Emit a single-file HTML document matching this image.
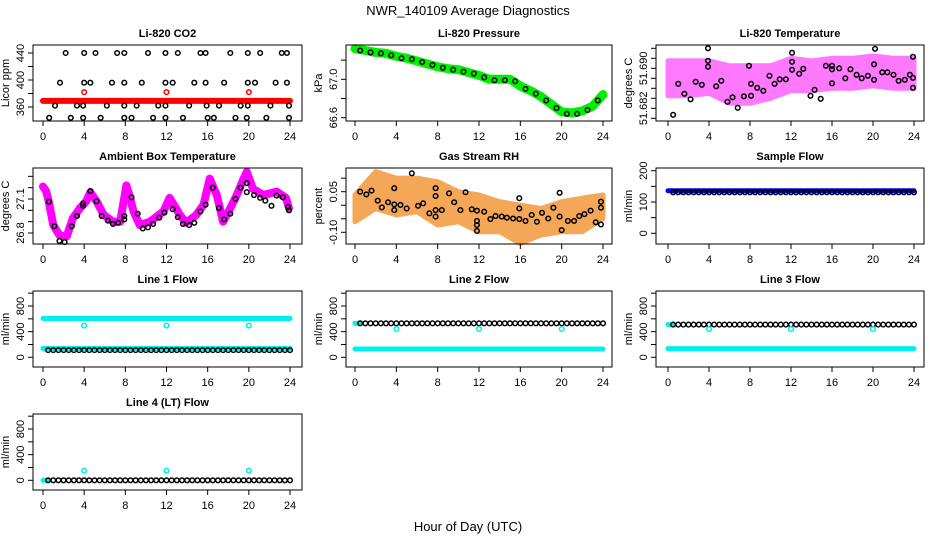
<!DOCTYPE html>
<html><head><meta charset="utf-8">
<style>
html,body{margin:0;padding:0;background:#fff;}
svg{display:block;font-family:"Liberation Sans",Arial,sans-serif;}
</style></head>
<body>
<svg id="chart" width="936" height="540" viewBox="0 0 936 540" xmlns="http://www.w3.org/2000/svg">
<rect width="936" height="540" fill="#fff"/>
<text x="468" y="15" font-size="13" text-anchor="middle">NWR_140109  Average Diagnostics</text>
<text x="468" y="531" font-size="13" text-anchor="middle">Hour of Day (UTC)</text>
</svg>
<script>
// ---------- data ----------
const xTickLabels = [0,4,8,12,16,20,24];
const checkHours = [4,12,20];

// CO2
const co2Band = 369;
const co2CheckVals = [382,382,382];
const co2H440 = [2.2,4.0,5.1,7.2,7.9,10.2,11.9,13.1,15.3,15.8,18.2,19.9,21.1,23.2,23.7];
const co2H396 = [1.65,4.0,4.6,6.7,7.9,9.6,11.9,12.6,14.7,15.8,17.6,19.9,20.6,22.6,23.7];
const co2H362 = [1.17,3.3,3.9,6.2,7.9,9.1,11.2,11.9,14.2,15.9,17.1,19.2,19.9,22.1,23.9];
const co2H344 = [0.6,2.7,3.9,5.6,7.9,8.6,10.7,11.9,13.6,16.0,16.6,18.7,19.8,21.7,23.9];
const co2Levels = [440,396,362,344];

// Pressure
const presHours = [0,1,2,3,4,5,6,7,8,9,10,11,12,13,14,15,16,17,18,19,20,21,22,23,24];
const presGreen = [67.32,67.30,67.28,67.27,67.24,67.22,67.19,67.16,67.13,67.11,67.10,67.07,67.04,67.00,67.00,67.00,66.93,66.88,66.82,66.74,66.66,66.65,66.67,66.72,66.84];
const presBlackHours = [0.5,1.5,2.5,3.5,4.5,5.5,6.5,7.5,8.5,9.5,10.5,11.5,12.5,13.5,14.5,15.5,16.5,17.5,18.5,19.5,20.5,21.5,22.5,23.5];
const presBlack = [67.30,67.28,67.27,67.25,67.22,67.21,67.18,67.15,67.12,67.10,67.08,67.06,67.02,66.99,66.99,66.98,66.90,66.85,66.78,66.70,66.64,66.64,66.68,66.78];

// Li-820 temperature
const tempBandHours = [0,2,4,6,8,10,12,14,16,18,20,22,24];
const tempHi = [51.6915,51.6915,51.6915,51.6905,51.6905,51.6905,51.6920,51.6915,51.6920,51.6920,51.6925,51.6920,51.6920];
const tempLo = [51.6845,51.6845,51.6850,51.6830,51.6830,51.6840,51.6855,51.6855,51.6860,51.6860,51.6865,51.6860,51.6860];
const tempBlackHours = [0.5,1.0,1.6,2.2,2.7,3.3,3.9,3.9,3.9,4.7,5.2,5.8,6.3,6.8,7.4,7.9,8.1,8.1,8.7,9.3,9.9,10.4,10.9,11.5,12.1,12.1,12.1,12.8,13.2,13.9,14.3,14.9,15.4,16.0,16.0,16.0,16.7,17.3,17.8,18.4,18.9,19.5,20.1,20.1,20.2,20.9,21.4,22.0,22.5,23.1,23.6,23.9,23.9,23.9];
const tempBlack = [51.6807,51.6869,51.6849,51.6838,51.6873,51.6867,51.6940,51.6915,51.6903,51.6864,51.6875,51.6833,51.6842,51.6821,51.6844,51.6905,51.6845,51.6869,51.6861,51.6855,51.6885,51.6869,51.6878,51.6878,51.6931,51.6913,51.6897,51.6889,51.6899,51.6845,51.6857,51.6839,51.6905,51.6905,51.6898,51.6870,51.6900,51.6880,51.6898,51.6887,51.6880,51.6885,51.6908,51.6877,51.6939,51.6892,51.6892,51.6887,51.6875,51.6877,51.6887,51.6881,51.6861,51.6923];

// Ambient box temperature
const ambHours = [0,0.3,0.55,1.0,1.6,2.3,2.9,3.6,4.2,4.6,5.2,5.9,6.8,7.5,8.1,8.4,8.8,9.4,10.4,11.7,12.3,13.3,13.9,14.9,15.6,16.2,16.9,17.5,18.2,18.8,19.5,19.8,20.4,21.4,22.7,23.6,23.9];
const ambMagenta = [27.21,27.17,27.08,26.87,26.78,26.77,26.93,27.02,27.08,27.16,27.08,26.96,26.90,26.90,27.22,27.13,26.99,26.87,26.90,26.99,27.11,26.96,26.89,26.96,27.05,27.28,27.13,26.90,27.02,27.13,27.28,27.34,27.19,27.135,27.165,27.11,27.02];
const ambBlackHours = [0.57,1.1,1.6,2.1,2.8,3.3,3.9,3.9,4.6,5.2,5.7,6.3,6.8,7.3,7.9,7.9,8.6,9.2,9.7,10.2,10.7,11.3,11.8,12.6,13.1,13.6,14.2,14.7,15.3,15.8,16.5,17.1,17.6,18.2,18.7,19.2,19.8,19.8,20.5,21.1,21.6,22.2,22.7,23.3,23.8,23.9];
const ambBlack = [27.076,26.86,26.73,26.72,26.86,26.95,27.06,27.04,27.17,27.08,26.95,26.91,26.88,26.89,26.95,26.92,27.115,26.97,26.84,26.85,26.88,26.935,26.98,27.01,26.94,26.88,26.87,26.89,26.99,27.05,27.20,27.02,26.92,26.97,27.10,27.20,27.24,27.16,27.135,27.11,27.085,27.04,27.13,27.115,27.03,27.0];

// Gas stream RH
const rhBandHours = [0,2,4,6,8,10,12,14,16,18,20,22,24];
const rhHi = [0.038,0.124,0.10,0.10,0.087,0.050,0.038,0.013,0.0,-0.012,0.013,0.026,0.038];
const rhLo = [-0.061,-0.012,-0.036,-0.024,-0.073,-0.061,-0.098,-0.098,-0.141,-0.110,-0.098,-0.098,-0.049];
const rhBlackHours = [0.5,1.1,1.6,2.2,2.6,3.2,3.8,3.8,3.8,4.4,5.0,5.5,6.1,6.6,7.2,7.8,7.8,7.8,7.8,8.4,9.1,9.6,10.2,10.7,11.3,11.8,11.8,11.8,11.8,12.5,13.1,13.6,14.2,14.7,15.3,15.9,15.9,15.9,16.5,17.1,17.6,18.1,18.7,19.2,19.8,19.8,20.0,20.6,21.2,21.7,22.2,22.8,23.3,23.8,23.8,23.8];
const rhBlack = [0.05,0.040,0.054,0.017,-0.008,0.011,0.063,0.003,-0.018,0.001,-0.012,0.118,-0.002,0.007,-0.030,-0.042,0.063,0.034,-0.018,-0.018,0.044,0.011,-0.018,0.048,-0.015,-0.020,-0.058,-0.073,-0.095,-0.024,-0.051,-0.040,-0.042,-0.046,-0.049,-0.051,0.026,-0.012,-0.058,-0.036,-0.061,-0.028,-0.049,-0.009,0.046,-0.042,-0.092,-0.058,-0.058,-0.040,-0.033,-0.020,-0.063,0.013,-0.009,-0.071];

// Flows
const sampleBlue = 136, sampleBlack = 131;
const line1High = 605, line1Low = 138, line1Black = 112, line1Check = [495,495,495];
const line2Black = 530, line2Low = 130, line2Check = [442,442,442];
const line3Black = 510, line3Low = 135, line3Check = [440,440,440];
const line4Black = 0, line4Check = [150,150,150];

// ---------- layout ----------
const SVGNS = "http://www.w3.org/2000/svg";
const svg = document.getElementById('chart');
const colBox = [[33,302,43,290],[346,612,355,603],[656,924,668,914]];
const rowTop = [45,168,291,414], boxH = 76;

function mk(tag, attrs, parent){
  const e = document.createElementNS(SVGNS, tag);
  for (const k in attrs) e.setAttribute(k, attrs[k]);
  (parent||svg).appendChild(e);
  return e;
}

function makePanel(name, col, row, title, ytitle, v1, y1off, v2, y2off, ticks, labels){
  const [L,R,x0,x24] = colBox[col];
  const T = rowTop[row], B = T + boxH;
  const g = mk('g', {});
  
  
  const xs = h => x0 + (x24 - x0) * h / 24;
  const ys = v => (T + y1off) + (v - v1) * ((y2off - y1off) / (v2 - v1));
  const t = mk('text', {x:(L+R)/2, y:T-8, 'font-size':11, 'font-weight':'bold', 'text-anchor':'middle'}, g);
  t.textContent = title;
  
  
  const marks = mk('g', {}, g);
  
  
  const fr = mk('rect', {x:L, y:T, width:R-L, height:boxH, fill:'none', stroke:'#000', 'stroke-width':1}, g);
  
  
  const xa = mk('g', {}, g);
  
  
  xTickLabels.forEach(h => {
    mk('line', {x1:xs(h), x2:xs(h), y1:B, y2:B+5, stroke:'#000'}, xa);
    const tl = mk('text', {x:xs(h), y:B+19, 'font-size':11, 'text-anchor':'middle'}, xa);
    tl.textContent = h;
    
    
  });
  const ya = mk('g', {}, g);
  
  
  ticks.forEach(v => { mk('line', {x1:L-5, x2:L, y1:ys(v), y2:ys(v), stroke:'#000'}, ya); });
  labels.forEach(lb => {
    const yy = ys(parseFloat(lb));
    const tl = mk('text', {x:L-9, y:yy, 'font-size':11, 'text-anchor':'middle', transform:`rotate(-90 ${L-9} ${yy})`}, ya);
    tl.textContent = lb;
    
    
  });
  const yt = mk('text', {x:L-24, y:(T+B)/2, 'font-size':11, 'text-anchor':'middle', transform:`rotate(-90 ${L-24} ${(T+B)/2})`}, g);
  yt.textContent = ytitle;
  
  
  return {xs, ys, marks};
}

function circle(p, parentG, h, v, color, nm){
  const c = mk('circle', {cx:p.xs(h), cy:p.ys(v), r:2.3, fill:'none', stroke:color, 'stroke-width':1.5}, parentG);
  
  
}
function band(p, hours, vals, color, w, nm){
  const pts = hours.map((h,i) => p.xs(h) + ',' + p.ys(vals[i])).join(' ');
  const l = mk('polyline', {points:pts, fill:'none', stroke:color, 'stroke-width':w, 'stroke-linecap':'round', 'stroke-linejoin':'round'}, p.marks);
  
  
}
function flatBand(p, h1, h2, v, w, color, nm){
  const x1 = p.xs(h1) - w/2, x2 = p.xs(h2) + w/2;
  const r = mk('rect', {x:x1, y:p.ys(v) - w/2, width:x2 - x1, height:w, fill:color, rx:w/2, ry:w/2}, p.marks);
  
  
}
function area(p, hours, hi, lo, color, nm, op){
  const pts = hours.map((h,i)=>p.xs(h)+','+p.ys(hi[i])).concat(hours.slice().reverse().map((h,j)=>p.xs(h)+','+p.ys(lo[hours.length-1-j]))).join(' ');
  const a = mk('polygon', {points:pts, fill:color, stroke:color, 'stroke-width':5, 'stroke-linejoin':'round', opacity:op}, p.marks);
  
  
}
const recordHours = [];
for (let h = 0.5; h <= 24.001; h += 0.5) recordHours.push(h);

// ---------- panels ----------
let p = makePanel('co2', 0, 0, 'Li-820 CO2', 'Licor ppm', 360, 62, 440, 8, [360,380,400,420,440], ['360','400','440']);
flatBand(p, 0, 24, co2Band, 6, '#ff0000', 'co2-red-band');
checkHours.forEach((h,i)=>circle(p, p.marks, h, co2CheckVals[i], '#ff0000', 'co2-check-point'));
[co2H440,co2H396,co2H362,co2H344].forEach((arr,k)=>arr.forEach(h=>circle(p, p.marks, h, co2Levels[k], '#000', 'co2-point')));

p = makePanel('pressure', 1, 0, 'Li-820 Pressure', 'kPa', 67.0, 34.3, 66.6, 72.7, [66.6,66.8,67.0,67.2], ['66.6','67.0']);
band(p, presHours, presGreen, '#00ee00', 9, 'pressure-green-band');
presBlackHours.forEach((h,i)=>circle(p, p.marks, h, presBlack[i], '#000', 'pressure-point'));

p = makePanel('li820-temp', 2, 0, 'Li-820 Temperature', 'degrees C', 51.690, 23.3, 51.682, 63.3, [51.680,51.682,51.684,51.686,51.688,51.690,51.692,51.694], ['51.682','51.690']);
area(p, tempBandHours, tempHi, tempLo, '#ff33ff', 'li820-temp-magenta-cloud', 0.65);
tempBlackHours.forEach((h,i)=>circle(p, p.marks, h, tempBlack[i], '#000', 'li820-temp-point'));

p = makePanel('ambient-temp', 0, 1, 'Ambient Box Temperature', 'degrees C', 27.1, 31, 26.8, 65, [26.8,26.9,27.0,27.1,27.2,27.3], ['26.8','27.1']);
band(p, ambHours, ambMagenta, '#ff00ff', 8, 'ambient-magenta-band');
ambBlackHours.forEach((h,i)=>circle(p, p.marks, h, ambBlack[i], '#000', 'ambient-point'));

p = makePanel('gas-rh', 1, 1, 'Gas Stream RH', 'percent', 0.05, 23.7, -0.10, 64.3, [-0.10,-0.05,0,0.05,0.10], ['-0.10','0.05']);
area(p, rhBandHours, rhHi, rhLo, '#f08a20', 'gas-rh-orange-cloud', 0.75);
rhBlackHours.forEach((h,i)=>circle(p, p.marks, h, rhBlack[i], '#000', 'gas-rh-point'));

p = makePanel('sample-flow', 2, 1, 'Sample Flow', 'ml/min', 0, 65.3, 200, 2.7, [0,50,100,150,200], ['0','100','200']);
flatBand(p, 0, 24, sampleBlue, 5, '#0000ff', 'sample-flow-blue-band');
recordHours.forEach(h=>circle(p, p.marks, h, sampleBlack, '#000', 'sample-flow-point'));

const flowTicks = [0,200,400,600,800,1000], flowLabels = ['0','400','800'];
p = makePanel('line1-flow', 0, 2, 'Line 1 Flow', 'ml/min', 0, 66.3, 800, 15, flowTicks, flowLabels);
flatBand(p, 0, 24, line1High, 5, '#00f0f0', 'line1-cyan-high');
flatBand(p, 0, 24, line1Low, 5, '#00f0f0', 'line1-cyan-low');
recordHours.forEach(h=>circle(p, p.marks, h, line1Black, '#000', 'line1-point'));
checkHours.forEach((h,i)=>circle(p, p.marks, h, line1Check[i], '#00eeee', 'line1-check-point'));

p = makePanel('line2-flow', 1, 2, 'Line 2 Flow', 'ml/min', 0, 66.3, 800, 15, flowTicks, flowLabels);
flatBand(p, 0, 24, line2Low, 5, '#00f0f0', 'line2-cyan-low');
flatBand(p, 0, 0.5, line2Black, 5, '#00f0f0', 'line2-cyan-high');
recordHours.forEach(h=>circle(p, p.marks, h, line2Black, '#000', 'line2-point'));
checkHours.forEach((h,i)=>circle(p, p.marks, h, line2Check[i], '#00eeee', 'line2-check-point'));

p = makePanel('line3-flow', 2, 2, 'Line 3 Flow', 'ml/min', 0, 66.3, 800, 15, flowTicks, flowLabels);
flatBand(p, 0, 24, line3Low, 5, '#00f0f0', 'line3-cyan-low');
flatBand(p, 0, 0.5, line3Black, 5, '#00f0f0', 'line3-cyan-high');
recordHours.forEach(h=>circle(p, p.marks, h, line3Black, '#000', 'line3-point'));
checkHours.forEach((h,i)=>circle(p, p.marks, h, line3Check[i], '#00eeee', 'line3-check-point'));

p = makePanel('line4-flow', 0, 3, 'Line 4 (LT) Flow', 'ml/min', 0, 66.3, 800, 15, flowTicks, flowLabels);
flatBand(p, 0, 0.5, line4Black, 5, '#00f0f0', 'line4-cyan-band');
recordHours.forEach(h=>circle(p, p.marks, h, line4Black, '#000', 'line4-point'));
checkHours.forEach((h,i)=>circle(p, p.marks, h, line4Check[i], '#00eeee', 'line4-check-point'));
</script>
</body></html>
